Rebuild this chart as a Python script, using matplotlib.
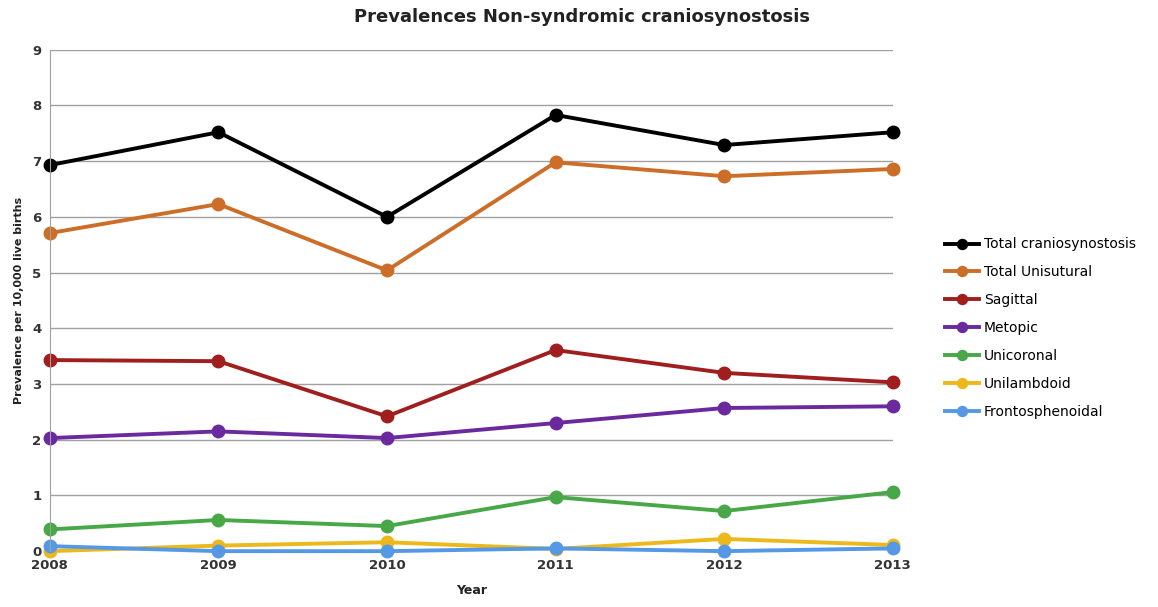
import matplotlib
matplotlib.use("Agg")
import matplotlib.pyplot as plt

years = [2008, 2009, 2010, 2011, 2012, 2013]

total = [6.93, 7.52, 6.00, 7.83, 7.29, 7.52]
total_unisutural = [5.71, 6.23, 5.04, 6.98, 6.73, 6.86]
sagittal = [3.43, 3.41, 2.42, 3.61, 3.20, 3.03]
metopic = [2.03, 2.15, 2.03, 2.30, 2.57, 2.60]
unicoronal = [0.39, 0.56, 0.45, 0.97, 0.72, 1.06]
unilambdoid = [0.00, 0.10, 0.16, 0.04, 0.22, 0.11]
frontosphenoidal = [0.09, 0.00, 0.00, 0.05, 0.00, 0.05]

labels = ["Total craniosynostosis", "Total Unisutural", "Sagittal", "Metopic",
          "Unicoronal", "Unilambdoid", "Frontosphenoidal"]
colors = ["#000000", "#CC6E28", "#A01E1E", "#6A2A9E", "#48A848", "#EDB81C", "#5599E6"]
series = [total, total_unisutural, sagittal, metopic, unicoronal, unilambdoid, frontosphenoidal]

fig = plt.figure(figsize=(11.58, 6.07), dpi=100)
ax = fig.add_axes([0.043, 0.092, 0.728, 0.826])

for vals, lab, c in zip(series, labels, colors):
    ax.plot(years, vals, color=c, lw=2.8, marker="o", ms=9, label=lab, clip_on=False)

ax.set_xlim(2008, 2013)
ax.set_ylim(0, 9)
ax.set_yticks(range(10))
ax.set_xticks(years)
ax.grid(axis="y", color="#A0A0A0", lw=1)
ax.set_axisbelow(True)
for s in ["top", "right", "bottom"]:
    ax.spines[s].set_visible(False)
ax.spines["left"].set_color("#A0A0A0")
ax.tick_params(length=0, labelsize=9.5, colors="#333333", pad=6)
for lab in ax.get_yticklabels():
    lab.set_fontweight("bold")
for lab in ax.get_xticklabels():
    lab.set_fontweight("bold")

# title sits centred over the whole figure, not the axes
fig.text(0.503, 0.972, "Prevalences Non-syndromic craniosynostosis", fontsize=13,
         fontweight="bold", color="#222222", ha="center", va="center")
ax.set_xlabel("Year", fontsize=9, fontweight="bold", color="#222222", labelpad=8)
ax.set_ylabel("Prevalence per 10,000 live births", fontsize=8, fontweight="bold",
              color="#222222", labelpad=6)

ax.legend(loc="center left", bbox_to_anchor=(1.055, 0.445), frameon=False, fontsize=10,
          handlelength=2.5, handletextpad=0.3, labelspacing=1.0, markerscale=0.8,
          borderaxespad=0)

fig.savefig("out.png", dpi=100)
